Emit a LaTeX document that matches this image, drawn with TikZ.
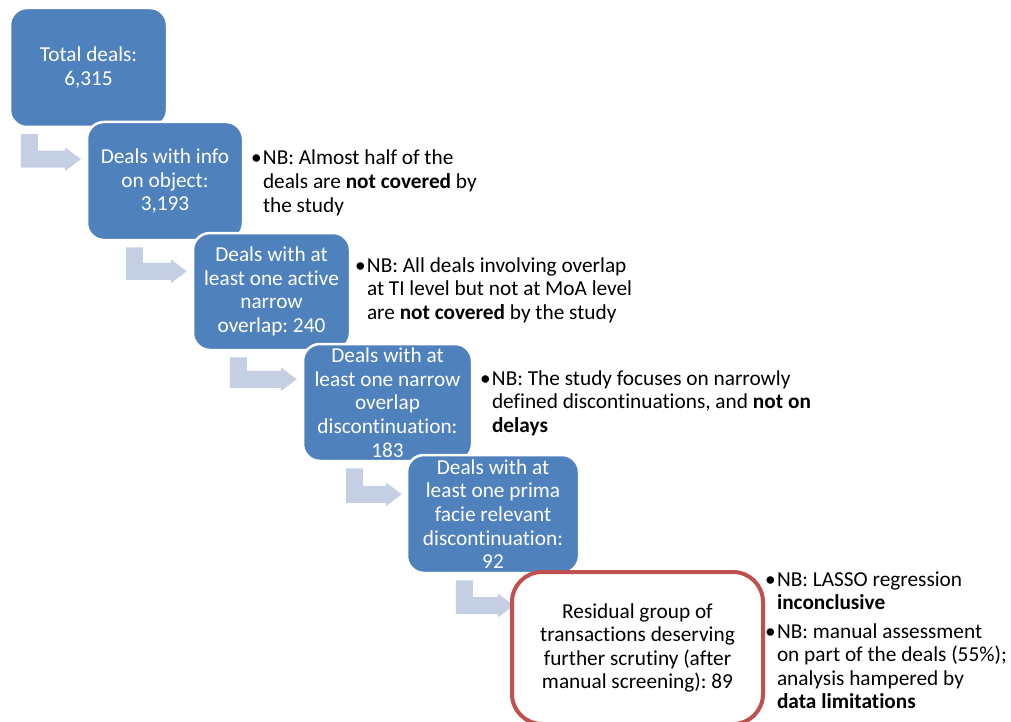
\documentclass[tikz,border=0pt]{standalone}
\usepackage{fontspec}
\setmainfont{Carlito}[RawFeature=-liga]
\usetikzlibrary{calc,backgrounds}

\definecolor{boxblue}{RGB}{79,129,189}
\definecolor{arrowgray}{RGB}{197,207,227}
\definecolor{boxred}{RGB}{192,80,77}

\newcommand{\boxfont}{\fontsize{21.3}{23.6}\selectfont\frenchspacing}
% bullet with hanging indent for the side notes
\newcommand{\nbitem}[1]{\makebox[12pt][l]{\textbullet}\begin{tabular}[t]{@{}l@{}}#1\end{tabular}}

\tikzset{
  stepbox/.style={rectangle, rounded corners=17pt, fill=boxblue, draw=white,
    line width=2.5pt, text=white, align=center, inner sep=0pt, font=\boxfont},
  finalbox/.style={rectangle, rounded corners=30pt, fill=white, draw=boxred,
    line width=4pt, text=black, align=center, inner sep=0pt, font=\boxfont},
  note/.style={anchor=base west, inner sep=0pt, outer sep=0pt, font=\boxfont, align=left},
  bentfill/.style={fill=arrowgray, draw=none},
}

% bent arrow from the bottom of box #1 to the left side of box #2
% #3: bar offset from left of #1, #4: bar offset below top of #2, #5: gap before #2
\newcommand{\stepconnector}[5]{%
  \path[bentfill] let \p1=(#1.south west), \p2=(#2.north west) in
    (\x1+#3pt,\y1-6pt) -- (\x1+#3pt+17pt,\y1-6pt)
    -- (\x1+#3pt+17pt,\y2-#4pt) -- (\x2-#5pt-16pt,\y2-#4pt)
    -- (\x2-#5pt-16pt,\y2-#4pt+3.5pt) -- (\x2-#5pt,\y2-#4pt-8.5pt)
    -- (\x2-#5pt-16pt,\y2-#4pt-20.5pt) -- (\x2-#5pt-16pt,\y2-#4pt-17pt)
    -- (\x1+#3pt,\y2-#4pt-17pt) -- cycle;}

\begin{document}
\begin{tikzpicture}[x=1pt,y=-1pt]
  \useasboundingbox (0,0) rectangle (1011,722);

  % funnel of steps
  \node[stepbox, minimum width=157pt, minimum height=119pt] (b1) at (88.5,67.5)
    {Total deals:\\6,315};
  \node[stepbox, minimum width=156pt, minimum height=118pt] (b2) at (165,181)
    {Deals with info\\on object:\\3,193};
  \node[stepbox, minimum width=157pt, minimum height=117pt] (b3) at (271.5,291.5)
    {Deals with at\\least one active\\narrow\\overlap: 240};
  \node[stepbox, minimum width=169pt, minimum height=117pt] (b4) at (387.5,402.5)
    {Deals with at\\least one narrow\\overlap\\discontinuation:\\183};
  \node[stepbox, minimum width=172pt, minimum height=118pt] (b5) at (493,514)
    {Deals with at\\least one prima\\facie relevant\\discontinuation:\\92};
  \node[finalbox, minimum width=251pt, minimum height=152pt] (b6) at (637.5,648)
    {Residual group of\\transactions deserving\\further scrutiny (after\\manual screening): 89};

  % connectors between the steps
  \begin{pgfonlayer}{background}
    \stepconnector{b1}{b2}{12}{30}{5}
    \stepconnector{b2}{b3}{40}{31}{5}
    \stepconnector{b3}{b4}{38}{28}{5}
    \stepconnector{b4}{b5}{44}{32}{4}
    \stepconnector{b5}{b6}{50}{27}{-4}
  \end{pgfonlayer}

  % side notes
  \node[note] (n1) at (251,165)
    {\nbitem{NB: Almost half of the\\deals are \textbf{not covered} by\\the study}};
  \node[note] (n2) at (355,272)
    {\nbitem{NB: All deals involving overlap\\at TI level but not at MoA level\\are \textbf{not covered} by the study}};
  \node[note] (n3) at (480,385)
    {\nbitem{NB: The study focuses on narrowly\\defined discontinuations, and \textbf{not on}\\\textbf{delays}}};
  \node[note] (n4a) at (765,586)
    {\nbitem{NB: LASSO regression\\\textbf{inconclusive}}};
  \node[note] (n4b) at (765,638)
    {\nbitem{NB: manual assessment\\on part of the deals (55\%);\\analysis hampered by\\\textbf{data limitations}}};
\end{tikzpicture}
\end{document}
